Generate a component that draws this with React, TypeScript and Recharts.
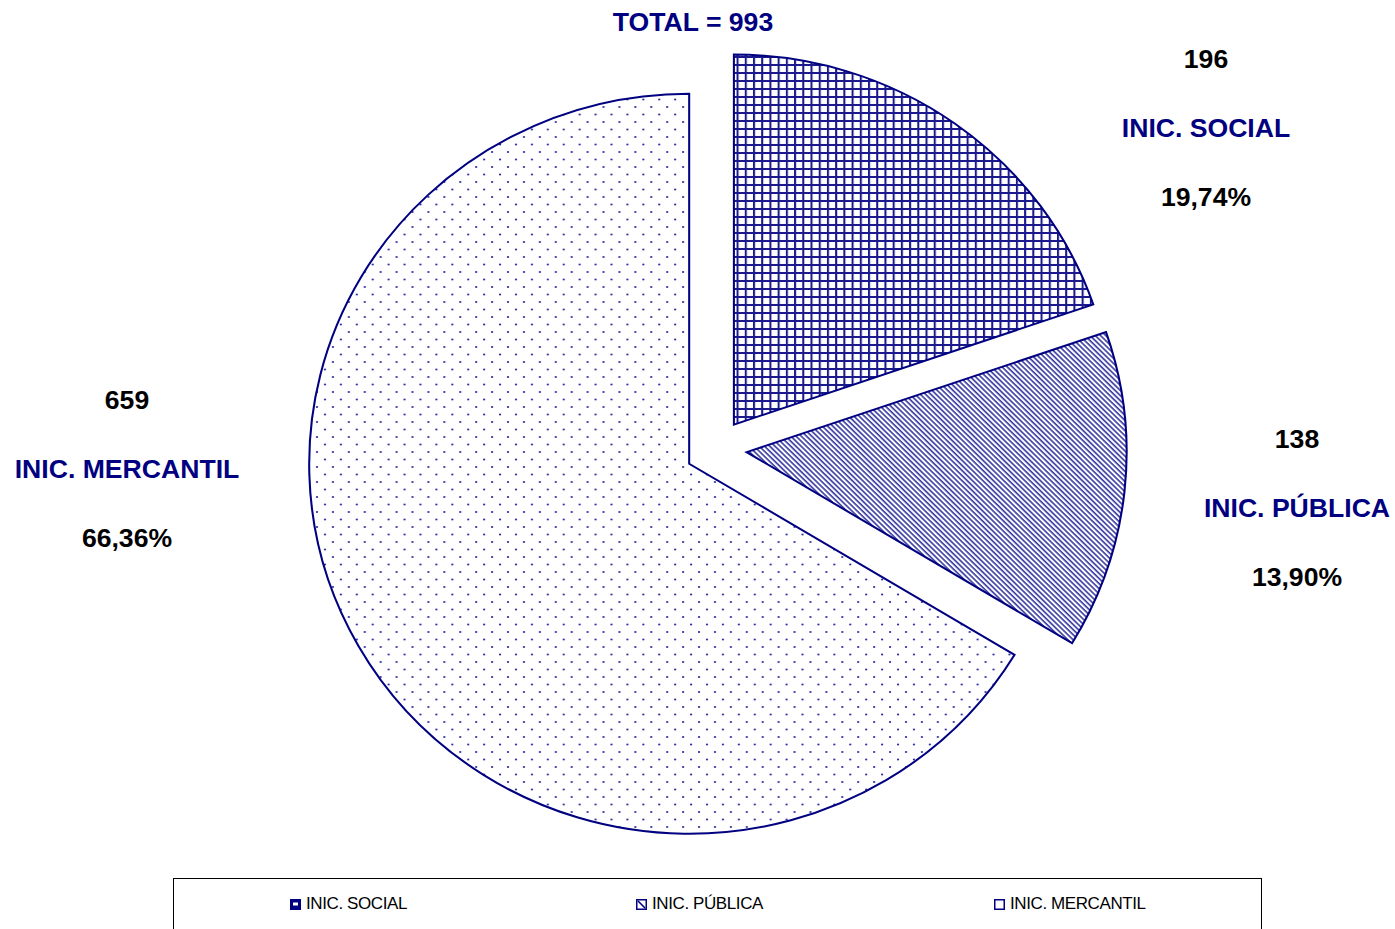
import React from 'react';
import { PieChart, Pie, Cell } from 'recharts';

const CATEGORIES = ['INIC. SOCIAL', 'INIC. PÚBLICA', 'INIC. MERCANTIL'];
const COUNTS = [196, 138, 659];
const PERCENTS = ['19,74%', '13,90%', '66,36%'];
const TOTAL = 993;

const NAVY = '#000080';
const FILLS = ['url(#pat-grid)', 'url(#pat-diag)', 'url(#pat-dots)'];
// centre of the middle label line for each slice
const LABEL_POS = [
  { x: 1206, y: 127 },
  { x: 1297, y: 507 },
  { x: 127, y: 468 },
];
// left edge of each legend item inside the box
const LEGEND_LEFT = [116, 462, 820];

const CX = 716;
const CY = 449;
const R = 370;
const EXPLODE = 30;

const rows = CATEGORIES.map((name, i) => ({ name, value: COUNTS[i] }));
const sum = COUNTS.reduce((a, b) => a + b, 0);

// each slice is drawn by its own Pie, pushed out along its mid angle
const offsets = COUNTS.map((v, i) => {
  const before = COUNTS.slice(0, i).reduce((a, b) => a + b, 0);
  const mid = ((90 - ((before + v / 2) / sum) * 360) * Math.PI) / 180;
  return { dx: EXPLODE * Math.cos(mid), dy: -EXPLODE * Math.sin(mid) };
});

const labelFont = { fontFamily: 'Arial, "Liberation Sans", sans-serif', fontWeight: 700, fontSize: 26.6 };

function SliceLabel(own: number) {
  return (props: any) => {
    if (props.index !== own) return null;
    const p = LABEL_POS[own];
    return (
      <g style={labelFont}>
        <text x={p.x} y={p.y - 69 + 9.5} textAnchor="middle" fill="#000">{COUNTS[own]}</text>
        <text x={p.x} y={p.y + 9.5} textAnchor="middle" fill={NAVY}>{CATEGORIES[own]}</text>
        <text x={p.x} y={p.y + 69 + 9.5} textAnchor="middle" fill="#000">{PERCENTS[own]}</text>
      </g>
    );
  };
}

function Marker({ i }: { i: number }) {
  return (
    <svg width={11} height={11} style={{ marginRight: 5 }}>
      <rect x={0.75} y={0.75} width={9.5} height={9.5} fill={i === 0 ? NAVY : '#fff'} stroke={NAVY} strokeWidth={1.5} />
      {i === 0 && <rect x={3} y={3.5} width={5} height={3} fill="#fff" />}
      {i === 1 && <line x1={2} y1={2} x2={9} y2={9} stroke={NAVY} strokeWidth={1.6} />}
    </svg>
  );
}

export default function App() {
  return (
    <div style={{ position: 'absolute', left: 0, top: 0, width: 1395, height: 929, background: '#fff', overflow: 'hidden' }}>
      <style>{`.recharts-pie-sector { transform: scaleX(1.027); transform-origin: ${CX}px ${CY}px; }`}</style>
      <div
        style={{
          position: 'absolute',
          left: 493,
          width: 400,
          top: 9,
          lineHeight: '26px',
          textAlign: 'center',
          color: NAVY,
          ...labelFont,
        }}
      >
        TOTAL = {TOTAL}
      </div>
      <PieChart width={1395} height={929} margin={{ top: 0, right: 0, bottom: 0, left: 0 }}>
        <defs>
          <pattern id="pat-grid" patternUnits="userSpaceOnUse" width={8} height={8}>
            <rect width={8} height={8} fill="#fff" />
            <line x1={1} y1={0} x2={1} y2={8} stroke="#1a1a8c" strokeWidth={2} />
            <line x1={0} y1={1} x2={8} y2={1} stroke="#1a1a8c" strokeWidth={2} />
          </pattern>
          <pattern id="pat-diag" patternUnits="userSpaceOnUse" width={3.6} height={10} patternTransform="rotate(-45)">
            <rect width={3.6} height={10} fill="#fff" />
            <line x1={1} y1={0} x2={1} y2={10} stroke="#3a3aa0" strokeWidth={1.6} />
          </pattern>
          <pattern id="pat-dots" patternUnits="userSpaceOnUse" width={15.5} height={15}>
            <rect width={15.5} height={15} fill="#fff" />
            <circle cx={2} cy={2} r={1.1} fill="#2a2aa0" />
            <circle cx={9.75} cy={9.5} r={1.1} fill="#2a2aa0" />
          </pattern>
        </defs>
        {rows.map((_, own) => (
          <Pie
            key={own}
            data={rows}
            dataKey="value"
            nameKey="name"
            cx={CX + offsets[own].dx}
            cy={CY + offsets[own].dy}
            outerRadius={R}
            startAngle={90}
            endAngle={-270}
            label={SliceLabel(own)}
            labelLine={false}
            isAnimationActive={false}
          >
            {rows.map((r, i) => (
              <Cell
                key={r.name}
                fill={i === own ? FILLS[i] : 'none'}
                stroke={i === own ? NAVY : 'none'}
                strokeWidth={2}
              />
            ))}
          </Pie>
        ))}
      </PieChart>
      <div
        style={{
          position: 'absolute',
          left: 173,
          top: 878,
          width: 1087,
          height: 60,
          border: '1px solid #000',
          fontFamily: 'Arial, "Liberation Sans", sans-serif',
          fontSize: 17,
          letterSpacing: -0.4,
        }}
      >
        {CATEGORIES.map((c, i) => (
          <span
            key={c}
            style={{ position: 'absolute', left: LEGEND_LEFT[i], top: 15, lineHeight: '20px', display: 'flex', alignItems: 'center', whiteSpace: 'nowrap' }}
          >
            <Marker i={i} />
            {c}
          </span>
        ))}
      </div>
    </div>
  );
}
